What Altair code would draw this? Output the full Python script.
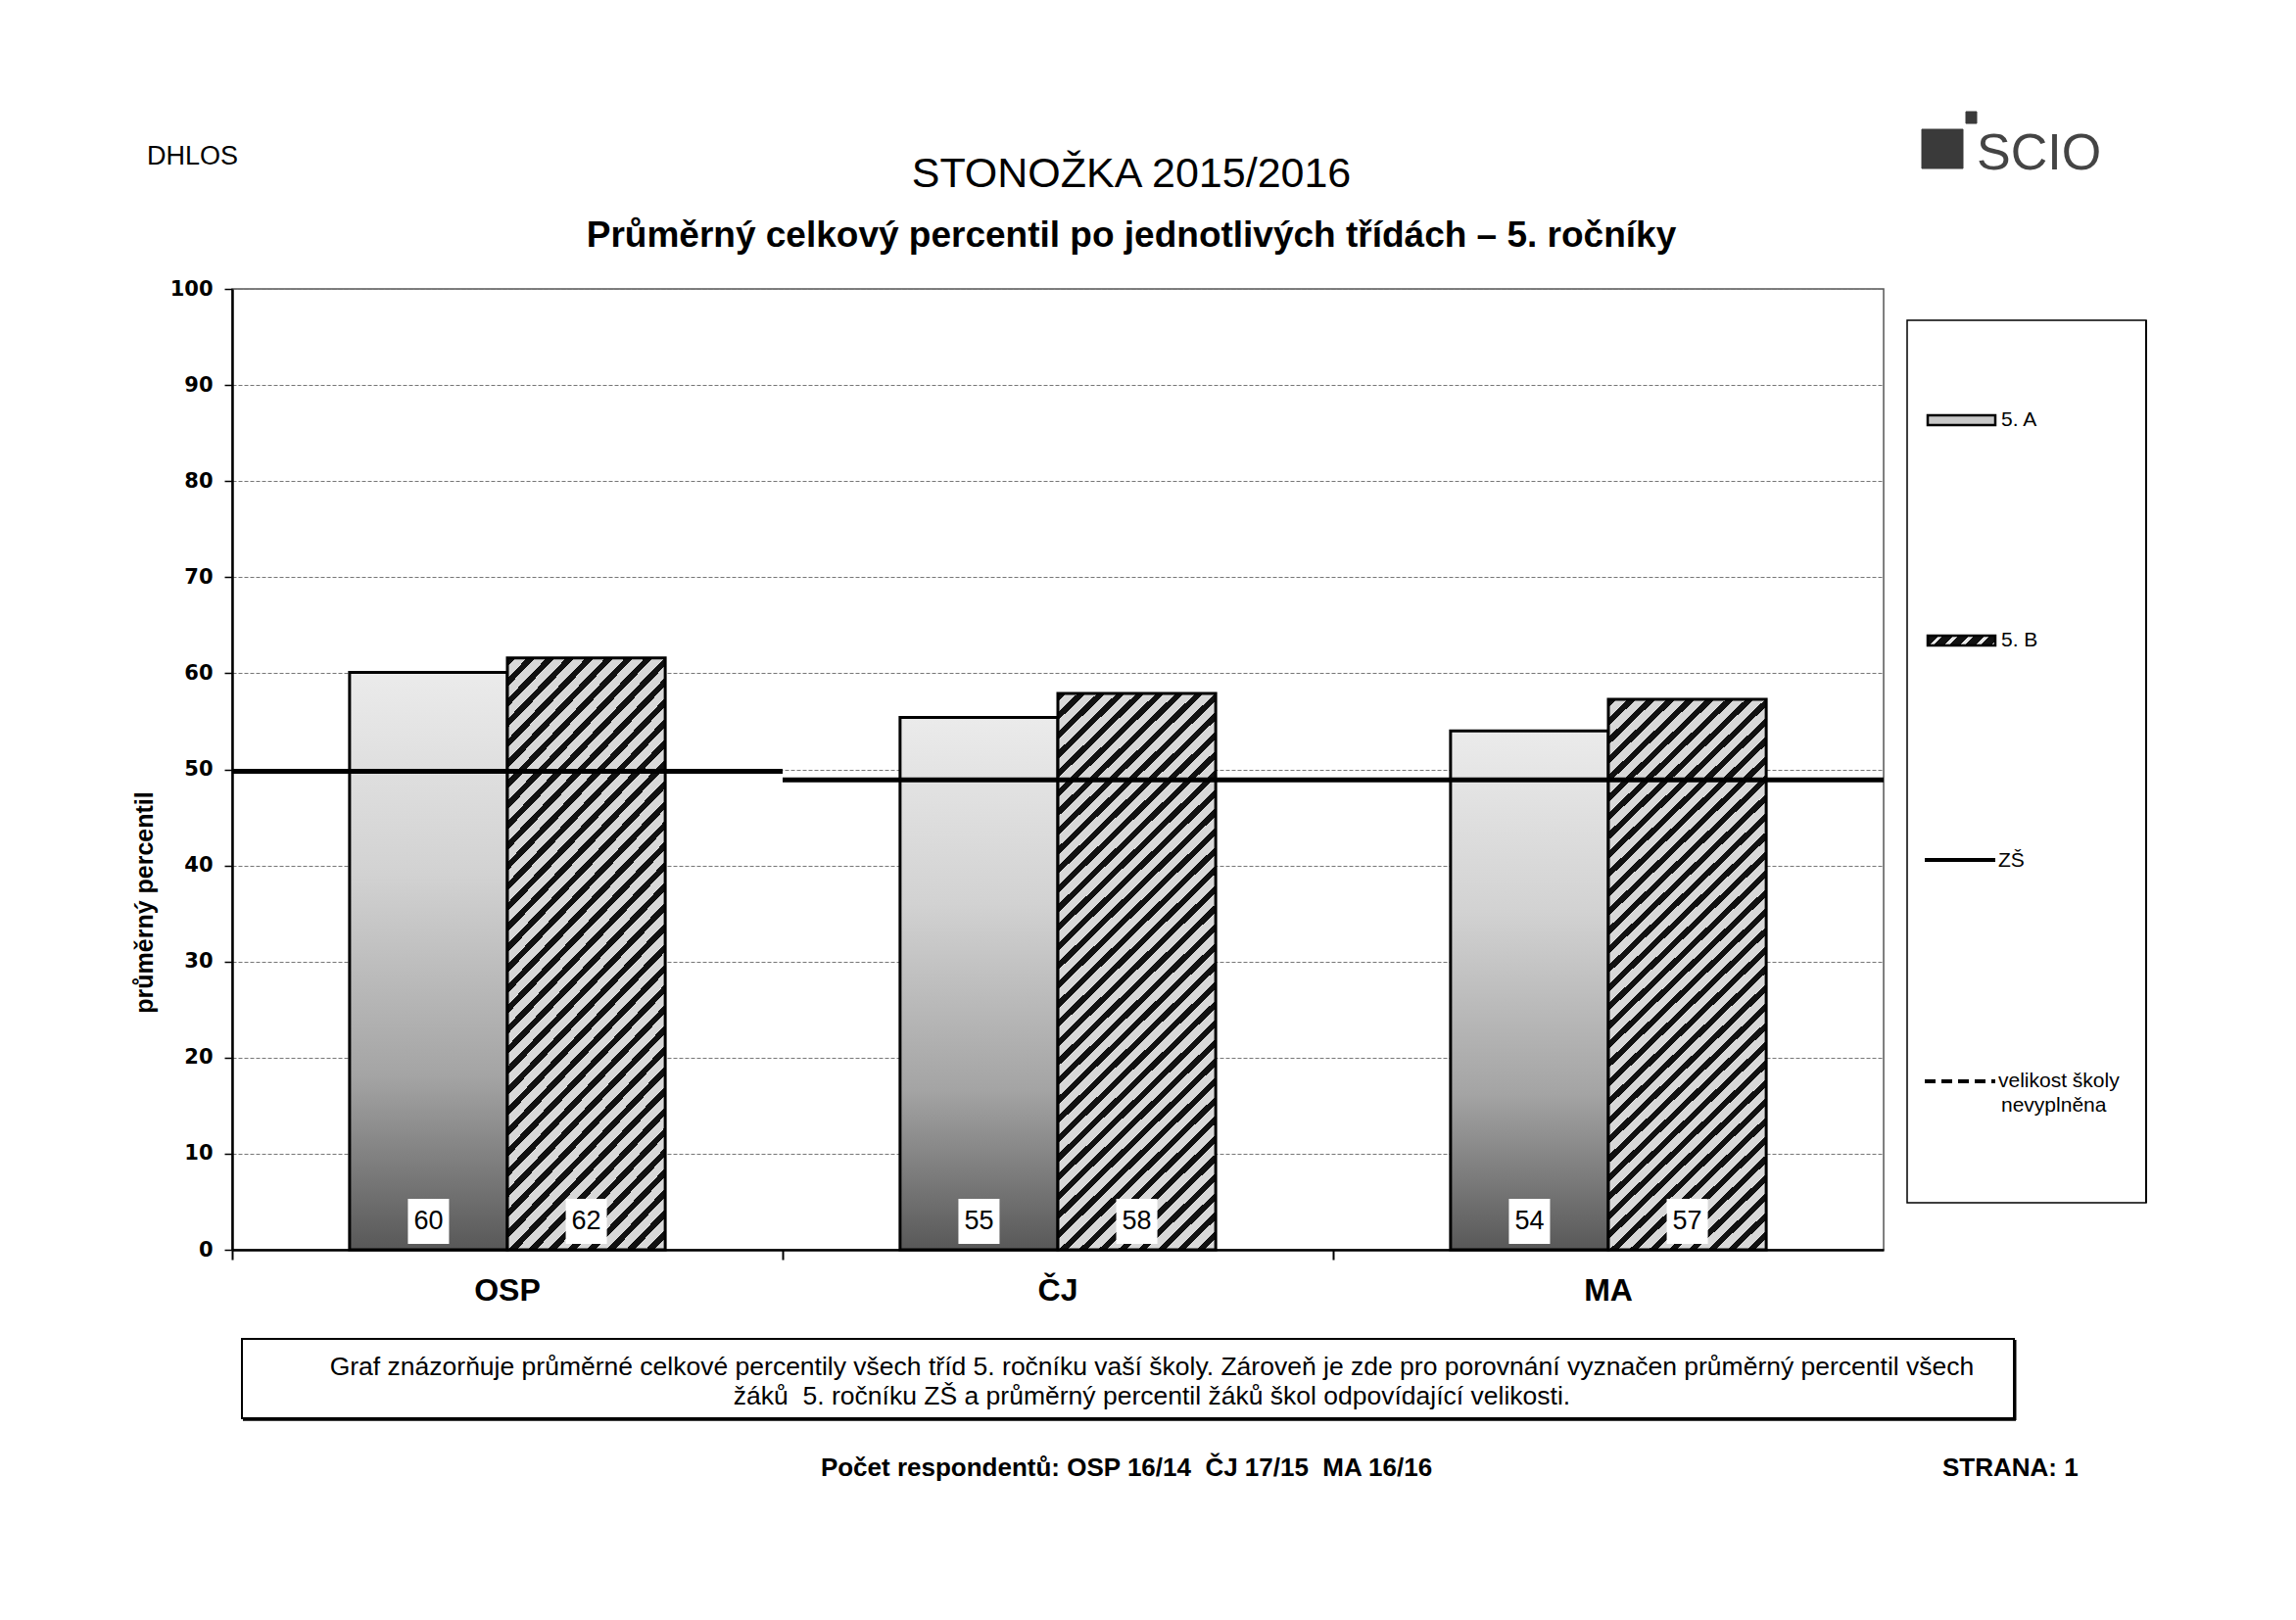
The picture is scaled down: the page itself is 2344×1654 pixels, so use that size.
import altair as alt
import pandas as pd

# ---- data ----
predmety = ["OSP", "ČJ", "MA"]
tridy = ["5. A", "5. B"]
hodnoty_5A = [60.1, 55.4, 54.0]
hodnoty_5B = [61.6, 57.9, 57.3]
zs_prumer = [49.8, 48.9, 48.9]
y_ticks = [0, 10, 20, 30, 40, 50, 60, 70, 80, 90, 100]

nadpis = "STONOŽKA 2015/2016"
podnadpis = "Průměrný celkový percentil po jednotlivých třídách – 5. ročníky"
skola = "DHLOS"
osa_y = "průměrný percentil"
poznamka_1 = "Graf znázorňuje průměrné celkové percentily všech tříd 5. ročníku vaší školy. Zároveň je zde pro porovnání vyznačen průměrný percentil všech"
poznamka_2 = "žáků\u00a0 5. ročníku ZŠ a průměrný percentil žáků škol odpovídající velikosti."
paticka = "Počet respondentů: OSP 16/14\u00a0 ČJ 17/15\u00a0 MA 16/16"
strana = "STRANA: 1"
legenda = ["5. A", "5. B", "ZŠ", "velikost školy", "nevyplněna"]

rows = []
for i, p in enumerate(predmety):
    rows.append({"predmet": p, "trida": "5. A", "hodnota": hodnoty_5A[i]})
    rows.append({"predmet": p, "trida": "5. B", "hodnota": hodnoty_5B[i]})
df = pd.DataFrame(rows)
df_zs = pd.DataFrame({"predmet": predmety, "zs": zs_prumer})
one = pd.DataFrame({"k": [0]})

W, H = 1686, 981
BAND = W / 3
FONT = "Liberation Sans"

# ---- fills ----
grad_a = alt.LinearGradient(
    gradient="linear",
    stops=[
        alt.GradientStop(color="#ebebeb", offset=0),
        alt.GradientStop(color="#d2d2d2", offset=0.35),
        alt.GradientStop(color="#a4a4a4", offset=0.7),
        alt.GradientStop(color="#585858", offset=1),
    ],
    x1=0, x2=0, y1=0, y2=1,
)


def hatch(n, frac, r, dark="#111111", light="#d8d8d8"):
    k = (1 + r) / (1 + r * r)
    stops = []
    for i in range(n):
        a = i / n
        b = (i + frac) / n
        c = (i + 1) / n
        stops += [
            alt.GradientStop(color=dark, offset=a),
            alt.GradientStop(color=dark, offset=b),
            alt.GradientStop(color=light, offset=b),
            alt.GradientStop(color=light, offset=c),
        ]
    return alt.LinearGradient(gradient="linear", stops=stops, x1=0, y1=0, x2=k, y2=k * r)


grad_b = hatch(37, 0.42, 3.6)
grad_sw = hatch(5, 0.7, 10 / 69, light="#e8e8e8")

# ---- scales ----
x_enc = alt.X(
    "predmet:N",
    sort=predmety,
    scale=alt.Scale(domain=predmety, paddingInner=0, paddingOuter=0),
    axis=alt.Axis(
        title=None, labelAngle=0, bandPosition=0, labelOffset=0,
        labelFont=FONT, labelFontSize=32, labelFontWeight="bold", labelColor="black",
        labelPadding=16, tickSize=10, tickColor="black", tickWidth=2,
        domainColor="black", domainWidth=2.5, grid=False,
    ),
)
xo_enc = alt.XOffset("trida:N", scale=alt.Scale(domain=tridy, paddingInner=0, paddingOuter=0.744))
y_enc = alt.Y(
    "hodnota:Q",
    scale=alt.Scale(domain=[0, 100], nice=False),
    axis=alt.Axis(
        title=osa_y, values=y_ticks, titleFont=FONT, titleFontSize=25, titleFontWeight="bold",
        titleColor="black", titleAngle=270, titleX=-90, titleY=626, titleAlign="center",
        titleBaseline="middle",
        labelFont="DejaVu Sans", labelFontSize=21, labelFontWeight="bold", labelColor="black",
        labelPadding=12, tickSize=8, tickColor="black", tickWidth=1.5,
        domainColor="black", domainWidth=2.5,
        grid=True, gridColor="#777777", gridWidth=1, gridDash=[4, 2],
    ),
)

base = alt.Chart(df)

bars_a = base.transform_filter(alt.datum.trida == "5. A").mark_bar(
    fill=grad_a, stroke="black", strokeWidth=3
).encode(x=x_enc, xOffset=xo_enc, y=y_enc)

bars_b = base.transform_filter(alt.datum.trida == "5. B").mark_bar(
    fill=grad_b, stroke="black", strokeWidth=3
).encode(x=x_enc, xOffset=xo_enc, y="hodnota:Q")

zs_line = alt.Chart(df_zs).mark_tick(size=BAND, thickness=5, color="black", opacity=1).encode(
    x=alt.X("predmet:N", sort=predmety), y=alt.Y("zs:Q")
)

label_box = base.mark_bar(width=42, fill="white").encode(
    x=alt.X("predmet:N", sort=predmety), xOffset=xo_enc, y=alt.datum(0.6), y2=alt.datum(5.3)
)
label_txt = base.mark_text(font=FONT, fontSize=27, color="black", baseline="middle").encode(
    x=alt.X("predmet:N", sort=predmety), xOffset=xo_enc, y=alt.datum(2.95),
    text=alt.Text("hodnota:Q", format=".0f")
)


def txt(text, x, y, size, weight="normal", align="left", color="black", font=FONT, baseline="alphabetic"):
    return alt.Chart(one).mark_text(
        text=text, font=font, fontSize=size, fontWeight=weight, align=align,
        baseline=baseline, color=color
    ).encode(x=alt.value(x), y=alt.value(y))


def box(x, x2, y, y2, fill="white", stroke="black", sw=2):
    return alt.Chart(one).mark_rect(fill=fill, stroke=stroke, strokeWidth=sw).encode(
        x=alt.value(x), x2=alt.value(x2), y=alt.value(y), y2=alt.value(y2)
    )


def hline(x, x2, y, sw=4, dash=None):
    kw = dict(color="black", strokeWidth=sw)
    if dash:
        kw["strokeDash"] = dash
    return alt.Chart(one).mark_rule(**kw).encode(x=alt.value(x), x2=alt.value(x2), y=alt.value(y))


def vline(x, y, y2, sw=3):
    return alt.Chart(one).mark_rule(color="black", strokeWidth=sw).encode(
        x=alt.value(x), y=alt.value(y), y2=alt.value(y2))


deco = [
    txt(skola, -87, -127, 27, weight="normal"),
    txt(nadpis, 918, -104, 43, align="center"),
    txt(podnadpis, 918, -43, 37, weight="bold", align="center"),
    # logo
    box(1725, 1767, -163, -123, fill="#3a3a3a", stroke="#3a3a3a", sw=1),
    box(1770, 1781, -181, -169, fill="#3a3a3a", stroke="#3a3a3a", sw=1),
    txt("SCIO", 1781, -122, 52, color="#444444"),
    # legend
    box(1710, 1954, 32, 933, sw=1.5),
    vline(1954, 32, 933, sw=2),
    box(1731, 1800, 129, 139, fill="#c8c8c8", stroke="black", sw=2.5),
    box(1731, 1800, 354, 364, fill=grad_sw, stroke="black", sw=2.5),
    hline(1728, 1800, 583, sw=4),
    hline(1728, 1800, 809, sw=4, dash=[11, 6]),
    txt(legenda[0], 1806, 134, 21, baseline="middle"),
    txt(legenda[1], 1806, 359, 21, baseline="middle"),
    txt(legenda[2], 1803, 584, 21, baseline="middle"),
    txt(legenda[3], 1803, 809, 21, baseline="middle"),
    txt(legenda[4], 1806, 834, 21, baseline="middle"),
    # note box
    box(10, 1819, 1072, 1153),
    hline(11, 1821, 1154, sw=3.5),
    vline(1820, 1073, 1155, sw=3),
    txt(poznamka_1, 939, 1101, 26.5, align="center", baseline="middle"),
    txt(poznamka_2, 939, 1131, 26.5, align="center", baseline="middle"),
    # footer
    txt(paticka, 913, 1204, 26, weight="bold", align="center", baseline="middle"),
    txt(strana, 1746, 1204, 26, weight="bold", baseline="middle"),
]

chart = alt.layer(bars_a, bars_b, zs_line, label_box, label_txt, *deco).properties(
    width=W, height=H,
    autosize=alt.AutoSizeParams(type="none"),
    padding={"left": 229, "top": 287, "right": 405, "bottom": 362},
    background="white",
).configure_view(stroke="#555555", strokeWidth=1.5)

chart.save("out.html", embed_options={"renderer": "svg", "actions": False})
